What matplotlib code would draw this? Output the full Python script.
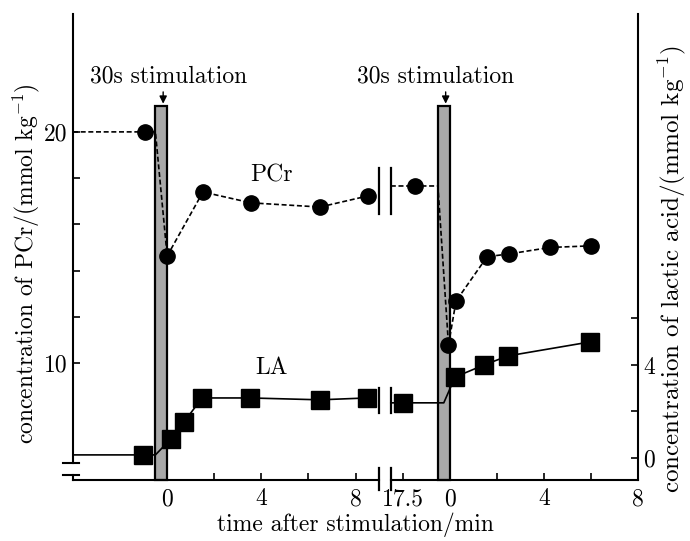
import matplotlib
matplotlib.use('Agg')
import matplotlib.pyplot as plt
from matplotlib.patches import Rectangle

plt.rcParams['font.family'] = 'serif'
plt.rcParams['font.serif'] = ['cmr10']
plt.rcParams['mathtext.fontset'] = 'cm'
plt.rcParams['axes.unicode_minus'] = False

# time after 1st stimulation (min) and after 2nd stimulation (min)
pcr_t1 = [-0.94, 0.0, 1.52, 3.56, 6.49, 8.53]
pcr_v1 = [20.0, 14.63, 17.4, 16.93, 16.75, 17.23]
pcr_t2 = [-1.47, -0.05, 0.27, 1.59, 2.52, 4.26, 6.0]
pcr_v2 = [17.66, 10.78, 12.68, 14.6, 14.72, 15.0, 15.07]

la_t1 = [-1.03, 0.16, 0.72, 1.48, 3.52, 6.49, 8.49]
la_v1 = [0.13, 0.82, 1.55, 2.58, 2.58, 2.5, 2.58]
la_t2 = [-2.0, 0.23, 1.46, 2.48, 5.96]
la_v2 = [2.37, 3.48, 4.0, 4.39, 4.99]

# 2nd recovery is drawn shifted along the time axis; 17.5 min of the
# first recovery sits 2 min before the 2nd stimulation
SHIFT = 12.0
tick_pos = [0, 2, 4, 6, 8, -2 + SHIFT, SHIFT, 2 + SHIFT, 4 + SHIFT, 6 + SHIFT, 8 + SHIFT]
tick_lab = ['0', '', '4', '', '8', '17.5', '0', '', '4', '', '8']

STIM = 0.5          # 30 s
BREAK = (9.0, 9.5)  # axis gap
XMIN, XMAX = -4.0, 20.0
PCR_LIM = (4.94, 25.1)
LA_LIM = (-0.95, 19.1)
BAR_TOP = 21.1

FS = 17

fig = plt.figure(figsize=(6.9, 5.41), dpi=100)
ax = fig.add_axes([73 / 690, 61 / 541, 565 / 690, 466 / 541])
ax2 = ax.twinx()
ax.set_zorder(ax2.get_zorder() + 1)
ax.patch.set_visible(False)

ax.set_xlim(XMIN, XMAX)
ax.set_ylim(*PCR_LIM)
ax2.set_ylim(*LA_LIM)

for a in (ax, ax2):
    for s in ('top', 'left', 'bottom'):
        a.spines[s].set_visible(False)
ax.spines['right'].set_visible(False)
ax2.spines['right'].set_linewidth(1.5)

# stimulation bars
for t0 in (0.0, SHIFT):
    ax.add_patch(Rectangle((t0 - STIM, PCR_LIM[0]), STIM, BAR_TOP - PCR_LIM[0],
                           facecolor='0.66', edgecolor='black', lw=1.6,
                           zorder=2, clip_on=False))
    ax.annotate('', xy=(t0 - STIM / 2 + 0.08, BAR_TOP), xytext=(t0 - STIM / 2 + 0.08, BAR_TOP + 0.75),
                arrowprops=dict(arrowstyle='-|>', color='black', lw=1.0, mutation_scale=11))

ax.text(0.04, 22.38, '30s stimulation', ha='center', va='center', fontsize=FS)
ax.text(SHIFT - 0.58, 22.38, '30s stimulation', ha='center', va='center', fontsize=FS)

# PCr, first run
x = [XMIN] + pcr_t1[:1] + [-STIM] + pcr_t1[1:]
y = [pcr_v1[0]] * 3 + pcr_v1[1:]
ax.plot(x, y, color='black', ls=(0, (3, 1.6)), lw=1.2, zorder=3)
ax.plot(pcr_t1, pcr_v1, 'o', color='black', ms=11, zorder=4)

# PCr, second run
p2 = [t + SHIFT for t in pcr_t2]
x = [BREAK[1], p2[0], SHIFT - STIM] + p2[1:]
y = [pcr_v2[0]] * 3 + pcr_v2[1:]
ax.plot(x, y, color='black', ls=(0, (3, 1.6)), lw=1.2, zorder=3)
ax.plot(p2, pcr_v2, 'o', color='black', ms=11, zorder=4)

# lactic acid on the right-hand scale
to_left = lambda v: PCR_LIM[0] + (v - LA_LIM[0]) * (PCR_LIM[1] - PCR_LIM[0]) / (LA_LIM[1] - LA_LIM[0])

x = [XMIN] + la_t1[:1] + [-STIM] + la_t1[1:]
y = [la_v1[0]] * 3 + la_v1[1:]
ax.plot(x, [to_left(v) for v in y], color='black', lw=1.2, zorder=3)
ax.plot(la_t1, [to_left(v) for v in la_v1], 's', color='black', ms=12.5, zorder=4)

l2 = [t + SHIFT for t in la_t2]
x = [BREAK[1], l2[0], SHIFT - STIM / 2] + l2[1:]
y = [la_v2[0]] * 3 + la_v2[1:]
ax.plot(x, [to_left(v) for v in y], color='black', lw=1.2, zorder=3)
ax.plot(l2, [to_left(v) for v in la_v2], 's', color='black', ms=12.5, zorder=4)

# break marks on the two curves
pc = (pcr_v1[-1] + pcr_v2[0]) / 2
lc = to_left((la_v1[-1] + la_v2[0]) / 2)
for bx in BREAK:
    ax.plot([bx, bx], [pc - 1.0, pc + 1.0], color='black', lw=1.6, zorder=3)
    ax.plot([bx, bx], [lc - 0.55, lc + 0.55], color='black', lw=1.6, zorder=3)

# broken bottom axis
xt = ax.get_xaxis_transform()
ax.plot([XMIN, BREAK[0]], [0, 0], transform=xt, color='black', lw=1.5, clip_on=False)
ax.plot([BREAK[1], XMAX], [0, 0], transform=xt, color='black', lw=1.5, clip_on=False)
for bx in BREAK:
    ax.plot([bx, bx], [-0.022, 0.026], transform=xt, color='black', lw=1.6, clip_on=False)

# broken left axis
ax.plot([0, 0], [0.0365, 1.0], transform=ax.transAxes, color='black', lw=1.5, clip_on=False)
ax.plot([0, 0], [0.0, 0.011], transform=ax.transAxes, color='black', lw=1.5, clip_on=False)
for by in (0.0365, 0.011):
    ax.plot([-0.018, 0.011], [by, by], transform=ax.transAxes, color='black', lw=1.5, clip_on=False)

ax.set_xticks(tick_pos)
ax.set_xticklabels(tick_lab)
ax.set_yticks([10, 12, 14, 16, 18, 20])
ax.set_yticklabels(['10', '', '', '', '', '20'])
ax2.set_yticks([0, 2, 4, 6])
ax2.set_yticklabels(['0', '', '4', ''])
ax.tick_params(axis='x', direction='in', length=5, width=1.2, labelsize=FS, pad=6)
ax.tick_params(axis='y', direction='in', length=5, width=1.2, labelsize=FS, pad=4)
ax2.tick_params(axis='y', direction='in', length=5, width=1.2, labelsize=FS, pad=4)

ax.text(4.45, 18.1, 'PCr', ha='center', va='center', fontsize=FS)
ax.text(4.45, 9.78, 'LA', ha='center', va='center', fontsize=FS)

fig.text(355 / 690, 1 - 525 / 541, 'time after stimulation/min', fontsize=FS,
         ha='center', va='center')
fig.text(26 / 690, 1 - 264 / 541, 'concentration of PCr/(mmol kg$^{-1}$)', fontsize=FS,
         rotation=90, ha='center', va='center')
fig.text(672 / 690, 1 - 269 / 541, 'concentration of lactic acid/(mmol kg$^{-1}$)',
         fontsize=18, rotation=90, ha='center', va='center')

fig.savefig('out.png', dpi=100)
